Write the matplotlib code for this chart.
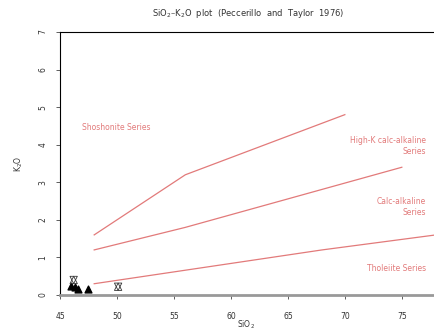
import matplotlib
matplotlib.use("Agg")
import matplotlib.pyplot as plt

# Boundary lines (Peccerillo & Taylor 1976)
sho_x = [48, 56, 70]
sho_y = [1.6, 3.2, 4.8]
hk_x = [48, 56, 75]
hk_y = [1.2, 1.8, 3.4]
th_x = [48, 68, 78]
th_y = [0.3, 1.2, 1.6]

# Samples
tri_x = [46.0, 46.3, 46.55, 47.5]
tri_y = [0.25, 0.2, 0.16, 0.16]
hex_x = [46.2, 50.1]
hex_y = [0.4, 0.22]

xticks = [45, 50, 55, 60, 65, 70, 75]
yticks = [0, 1, 2, 3, 4, 5, 6, 7]

red = "#e27a7a"
W, H = 434, 333
fig = plt.figure(figsize=(W/100, H/100), dpi=100)
ax = fig.add_axes([60/W, 1-295/H, 376/W, 263/H])
ax.set_xlim(45, 78)
ax.set_ylim(0, 7)

for xs, ys in [(sho_x, sho_y), (hk_x, hk_y), (th_x, th_y)]:
    ax.plot(xs, ys, color=red, lw=0.9, clip_on=False)

ax.scatter(tri_x, tri_y, marker='^', s=24, color='black', zorder=5, clip_on=False)
for mk in ['^', 'v']:
    ax.scatter(hex_x, hex_y, marker=mk, s=28, facecolors='none', edgecolors='#333333',
               linewidths=0.6, zorder=5, clip_on=False)

fs = 5.5
ax.text(46.9, 4.47, "Shoshonite Series", color=red, fontsize=fs, ha='left', va='center')
ax.text(77.1, 3.96, "High-K calc-alkaline\nSeries", color=red, fontsize=fs, ha='right', va='center',
        multialignment='right', linespacing=1.3)
ax.text(77.1, 2.35, "Calc-alkaline\nSeries", color=red, fontsize=fs, ha='right', va='center',
        multialignment='right', linespacing=1.3)
ax.text(77.1, 0.7, "Tholeiite Series", color=red, fontsize=fs, ha='right', va='center')

ax.set_xticks(xticks)
ax.set_yticks(yticks)
ax.set_yticklabels([str(v) for v in yticks], rotation=90, va='center')
ax.tick_params(axis='both', labelsize=fs, length=3, width=0.6, color='#444444', labelcolor='#333333')
ax.tick_params(axis='x', pad=9)
ax.tick_params(axis='y', pad=6)

ax.spines['right'].set_visible(False)
ax.spines['left'].set_linewidth(0.8)
ax.spines['top'].set_linewidth(0.8)
ax.spines['bottom'].set_color('#999999')
ax.spines['bottom'].set_linewidth(2.0)

fig.text(246/W, 1-325/H, "SiO$_2$", fontsize=fs, color='#333333', ha='center', va='center')
ax.set_ylabel("K$_2$O", fontsize=fs, color='#333333', labelpad=10)
fig.text(248/W, 1-14/H, "SiO$_2$\u2013K$_2$O  plot  (Peccerillo  and  Taylor  1976)", fontsize=6,
         ha='center', va='center', color='#333333')

fig.savefig("out.png", dpi=100)
